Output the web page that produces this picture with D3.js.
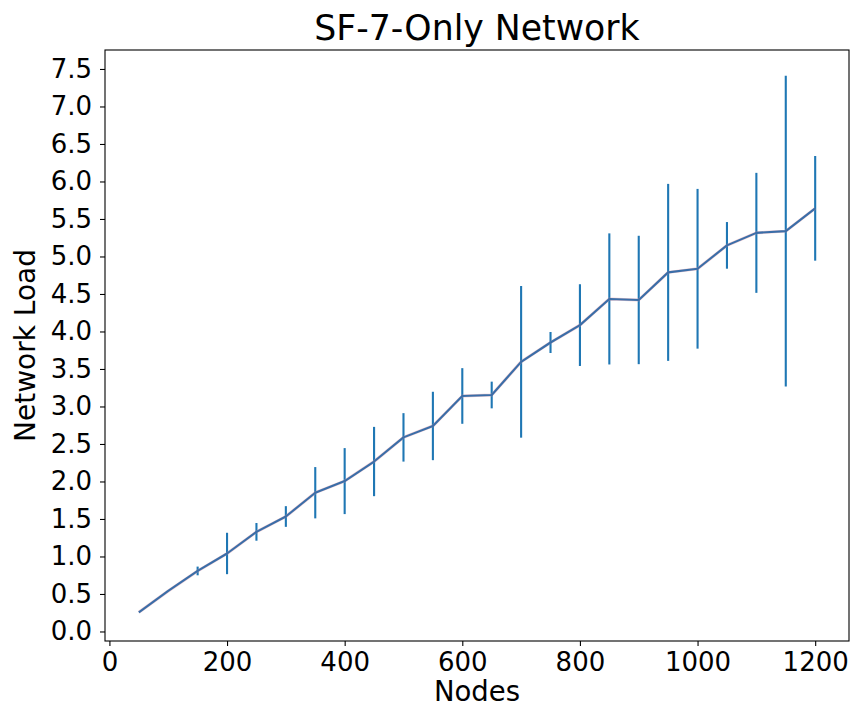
<!DOCTYPE html>
<html>
<head>
<meta charset="utf-8">
<script src="https://cdn.jsdelivr.net/npm/d3@7"></script>
<style>
  html, body { margin: 0; padding: 0; background: #fff; }
  svg { display: block; font-family: "DejaVu Sans", sans-serif; }
</style>
</head>
<body>
<svg id="chart" width="855" height="706"></svg>
<script>
// Network load vs. number of nodes (mean with standard-deviation bars)
const nodes = [50, 100, 150, 200, 250, 300, 350, 400, 450, 500, 550, 600,
               650, 700, 750, 800, 850, 900, 950, 1000, 1050, 1100, 1150, 1200];
const loadMean = [0.256, 0.54, 0.807, 1.04, 1.328, 1.533, 1.85, 2.005, 2.266, 2.588, 2.74, 3.14,
                  3.153, 3.595, 3.853, 4.085, 4.434, 4.42, 4.788, 4.836, 5.148, 5.315, 5.338, 5.642];
const loadErr = [0, 0, 0.058, 0.276, 0.118, 0.138, 0.342, 0.44, 0.462, 0.323, 0.456, 0.371,
                 0.178, 1.011, 0.14, 0.545, 0.874, 0.856, 1.18, 1.065, 0.311, 0.8, 2.072, 0.698];
const xTicks = [0, 200, 400, 600, 800, 1000, 1200];
const yTicks = [0, 0.5, 1, 1.5, 2, 2.5, 3, 3.5, 4, 4.5, 5, 5.5, 6, 6.5, 7, 7.5];

const plot = { left: 105, right: 849, top: 50, bottom: 641 };

// x padded by 5% of the data span on each side
const xExt = d3.extent(nodes);
const xPad = (xExt[1] - xExt[0]) * 0.05;
const x = d3.scaleLinear().domain([xExt[0] - xPad, xExt[1] + xPad]).range([plot.left, plot.right]);
const y = d3.scaleLinear().domain([-0.127, 7.753]).range([plot.bottom, plot.top]);

const svg = d3.select("#chart");
const data = nodes.map((n, i) => ({ n, m: loadMean[i], e: loadErr[i] }));

// error bars
svg.append("g")
  .selectAll("line")
  .data(data.filter(d => d.e > 0))
  .join("line")
  .attr("x1", d => x(d.n)).attr("x2", d => x(d.n))
  .attr("y1", d => y(d.m - d.e)).attr("y2", d => y(d.m + d.e))
  .attr("stroke", "#1f77b4")
  .attr("stroke-width", 2.1);

// mean line (faint warm underlay, blue on top)
const line = d3.line().x(d => x(d.n)).y(d => y(d.m));
svg.append("path").datum(data).attr("d", line)
  .attr("fill", "none").attr("stroke", "#d88a9a").attr("stroke-opacity", 0.45)
  .attr("stroke-width", 3).attr("stroke-linejoin", "round");
svg.append("path").datum(data).attr("d", line)
  .attr("fill", "none").attr("stroke", "#3a6ea8")
  .attr("stroke-width", 2.1).attr("stroke-linejoin", "round");

// frame
svg.append("rect")
  .attr("x", plot.left).attr("y", plot.top)
  .attr("width", plot.right - plot.left).attr("height", plot.bottom - plot.top)
  .attr("fill", "none").attr("stroke", "#000").attr("stroke-width", 1.1);

// x axis
const xAxis = svg.append("g")
  .attr("transform", `translate(0,${plot.bottom})`)
  .call(d3.axisBottom(x).tickValues(xTicks).tickFormat(d3.format("d")).tickSize(5).tickPadding(7));
xAxis.select(".domain").remove();
xAxis.selectAll("line").attr("stroke", "#000").attr("stroke-width", 1.1);
xAxis.selectAll("text").attr("font-size", 26).attr("fill", "#000")
  .attr("font-family", "DejaVu Sans");

// y axis
const yAxis = svg.append("g")
  .attr("transform", `translate(${plot.left},0)`)
  .call(d3.axisLeft(y).tickValues(yTicks).tickFormat(d3.format(".1f")).tickSize(5).tickPadding(8));
yAxis.select(".domain").remove();
yAxis.selectAll("line").attr("stroke", "#000").attr("stroke-width", 1.1);
yAxis.selectAll("text").attr("font-size", 26).attr("fill", "#000")
  .attr("font-family", "DejaVu Sans");

// titles
svg.append("text")
  .attr("x", (plot.left + plot.right) / 2).attr("y", 40)
  .attr("text-anchor", "middle").attr("font-size", 34.7).attr("fill", "#000")
  .text("SF-7-Only Network");
svg.append("text")
  .attr("x", (plot.left + plot.right) / 2).attr("y", 701)
  .attr("text-anchor", "middle").attr("font-size", 27.5).attr("fill", "#000")
  .text("Nodes");
svg.append("text")
  .attr("transform", `translate(35,${(plot.top + plot.bottom) / 2}) rotate(-90)`)
  .attr("text-anchor", "middle").attr("font-size", 28).attr("fill", "#000")
  .text("Network Load");
</script>
</body>
</html>
